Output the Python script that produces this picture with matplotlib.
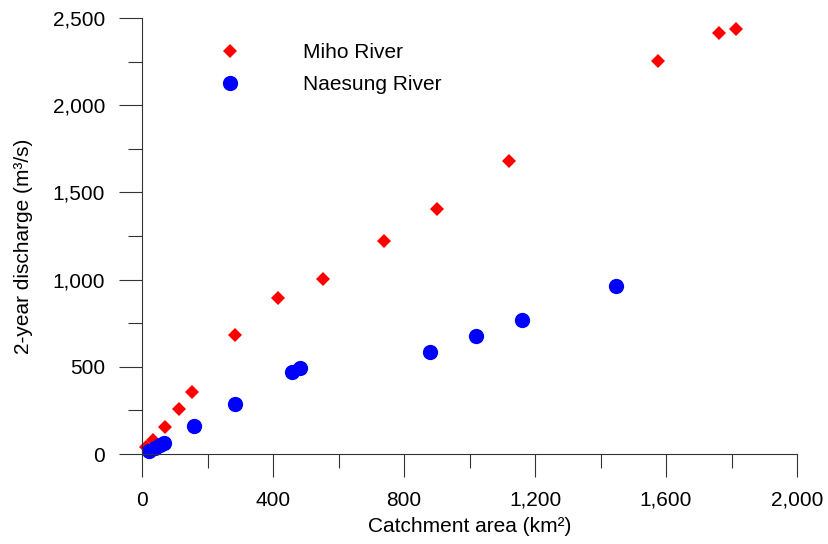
import matplotlib
matplotlib.use('Agg')
import matplotlib.pyplot as plt
from matplotlib.ticker import MultipleLocator, FuncFormatter

plt.rcParams['font.family'] = ['Liberation Sans', 'DejaVu Sans']

# Miho River (red diamonds)
miho_area = [12, 33, 69, 112, 152, 285, 415, 553, 740, 900, 1120, 1576, 1761, 1813]
miho_q = [38, 80, 157, 260, 357, 681, 896, 1003, 1223, 1405, 1678, 2255, 2414, 2435]

# Naesung River (blue circles)
naesung_area = [20, 40, 55, 68, 160, 284, 459, 483, 880, 1021, 1159, 1447]
naesung_q = [15, 35, 50, 62, 159, 288, 468, 495, 583, 677, 770, 962]

FS = 15

fig = plt.figure(figsize=(8.29, 5.44), dpi=100)
ax = fig.add_axes([0.1713, 0.1654, 0.7901, 0.8015])

ax.plot(miho_area, miho_q, 'D', color='red', markersize=7.5, markeredgewidth=0,
        label='Miho River', clip_on=False)
ax.plot(naesung_area, naesung_q, 'o', color='blue', markersize=11, markeredgewidth=0,
        label='Naesung River', clip_on=False)

ax.set_xlim(0, 2000)
ax.set_ylim(0, 2500)
ax.xaxis.set_major_locator(MultipleLocator(400))
ax.xaxis.set_minor_locator(MultipleLocator(200))
ax.yaxis.set_major_locator(MultipleLocator(500))
ax.yaxis.set_minor_locator(MultipleLocator(250))
fmt = FuncFormatter(lambda v, p: f'{v:,.0f}')
ax.xaxis.set_major_formatter(fmt)
ax.yaxis.set_major_formatter(fmt)

for s in ['top', 'right']:
    ax.spines[s].set_visible(False)
for s in ['left', 'bottom']:
    ax.spines[s].set_color('#333333')
    ax.spines[s].set_linewidth(0.8)

ax.tick_params(which='major', direction='out', length=16.5, width=0.8,
               color='#333333', labelsize=FS, pad=10)
ax.tick_params(which='minor', direction='out', length=10, width=0.8, color='#333333')

ax.set_xlabel('Catchment area (km²)', fontsize=FS, labelpad=5)
ax.set_ylabel('2-year discharge (m³/s)', fontsize=FS)
ax.yaxis.set_label_coords(-0.166, 0.477)

ax.legend(loc='upper left', bbox_to_anchor=(0.1185, 0.943), frameon=False,
          fontsize=FS, handlelength=1, handletextpad=3.0, borderpad=0,
          borderaxespad=0, labelspacing=0.65, numpoints=1)

fig.savefig('out.png', dpi=100)
